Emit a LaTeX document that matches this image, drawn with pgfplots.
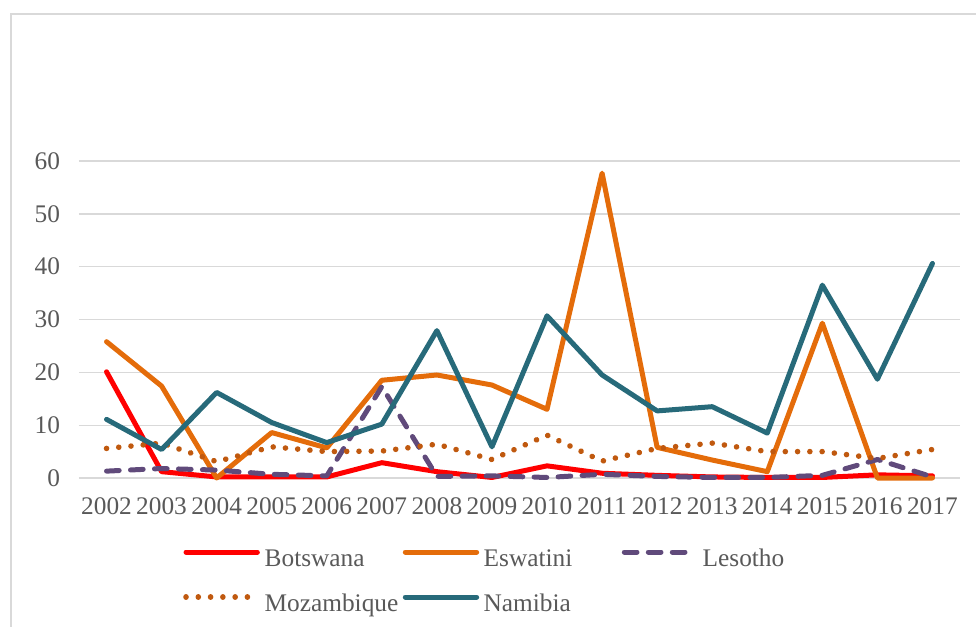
\documentclass[border=0pt]{standalone}
\usepackage{fontspec}
\setmainfont{Liberation Serif}
\usepackage{pgfplots}
\pgfplotsset{compat=1.18}
\definecolor{bwcol}{HTML}{FF0000}
\definecolor{swcol}{HTML}{E46C0A}
\definecolor{lscol}{HTML}{604A7B}
\definecolor{mzcol}{HTML}{C0590F}
\definecolor{nacol}{HTML}{276A7A}
\definecolor{gridgray}{HTML}{D9D9D9}
\definecolor{textgray}{HTML}{595959}
\begin{document}
\begin{tikzpicture}[x=1pt,y=1pt]
\useasboundingbox (0,0) rectangle (732,469.5);
\draw[color=gridgray, line width=1.1pt] (8.25,-5) -- (8.25,459) -- (740,459);
\begin{axis}[
  at={(59.25pt,111pt)}, anchor=south west,
  scale only axis, width=660.75pt, height=237.75pt,
  xmin=2001.5, xmax=2017.5, ymin=0, ymax=60,
  xtick={2002,...,2017}, ytick={0,10,...,60},
  ymajorgrids, grid style={gridgray, line width=1pt},
  axis line style={draw=none}, major tick length=0pt,
  clip=false,
  /pgf/number format/assume math mode=true,
  /pgf/number format/1000 sep={},
  tick label style={font=\fontsize{19}{23}\selectfont, text=textgray},
  xticklabel style={yshift=-11.5pt},
  yticklabel style={xshift=-10.7pt},
  legend columns=3,
  legend style={at={(0.118,-0.223)}, anchor=north west, draw=none, fill=none,
    inner sep=0pt, font=\fontsize{19}{23}\selectfont, text=textgray,
    /tikz/every odd column/.style={column sep=3.4pt},
    /tikz/every even column/.style={column sep=0pt},
    nodes={inner sep=0pt, text width=103.6pt, align=left, text height=13pt, text depth=4pt},
    row sep=16.75pt},
  legend image code/.code={\draw[#1] (0pt,6.2pt) -- (53.5pt,6.2pt);},
  every axis plot/.append style={line width=3.75pt, line join=round},
]
\addplot[bwcol, line cap=round] coordinates {
(2002,20.1) (2003,1.2) (2004,0.2) (2005,0.2) (2006,0.2) (2007,2.9) (2008,1.2) (2009,0.1)
(2010,2.3) (2011,0.9) (2012,0.5) (2013,0.2) (2014,0.1) (2015,0.1) (2016,0.6) (2017,0.4)};
\addlegendentry{Botswana}
\addplot[swcol, line cap=round] coordinates {
(2002,25.8) (2003,17.4) (2004,0.0) (2005,8.6) (2006,5.7) (2007,18.5) (2008,19.5) (2009,17.6)
(2010,13.0) (2011,57.7) (2012,5.8) (2013,3.4) (2014,1.2) (2015,29.3) (2016,0.0) (2017,0.0)};
\addlegendentry{Eswatini}
\addplot[lscol, line cap=round, dash pattern=on 9.5pt off 8.5pt] coordinates {
(2002,1.3) (2003,1.8) (2004,1.5) (2005,0.7) (2006,0.4) (2007,17.3) (2008,0.3) (2009,0.4)
(2010,0.1) (2011,0.7) (2012,0.3) (2013,0.1) (2014,0.1) (2015,0.5) (2016,3.5) (2017,0.2)};
\addlegendentry{Lesotho}
\addplot[mzcol, line cap=round, line width=4.2pt, dash pattern=on 0.01pt off 9.2pt] coordinates {
(2002,5.6) (2003,6.6) (2004,3.1) (2005,5.9) (2006,5.0) (2007,5.1) (2008,6.4) (2009,3.5)
(2010,8.1) (2011,3.2) (2012,5.6) (2013,6.6) (2014,5.0) (2015,5.0) (2016,3.7) (2017,5.4)};
\addlegendentry{Mozambique}
\addplot[nacol, line cap=round] coordinates {
(2002,11.1) (2003,5.4) (2004,16.2) (2005,10.5) (2006,6.7) (2007,10.2) (2008,27.9) (2009,5.9)
(2010,30.7) (2011,19.5) (2012,12.7) (2013,13.5) (2014,8.5) (2015,36.5) (2016,18.7) (2017,40.6)};
\addlegendentry{Namibia}
\end{axis}
\end{tikzpicture}
\end{document}
